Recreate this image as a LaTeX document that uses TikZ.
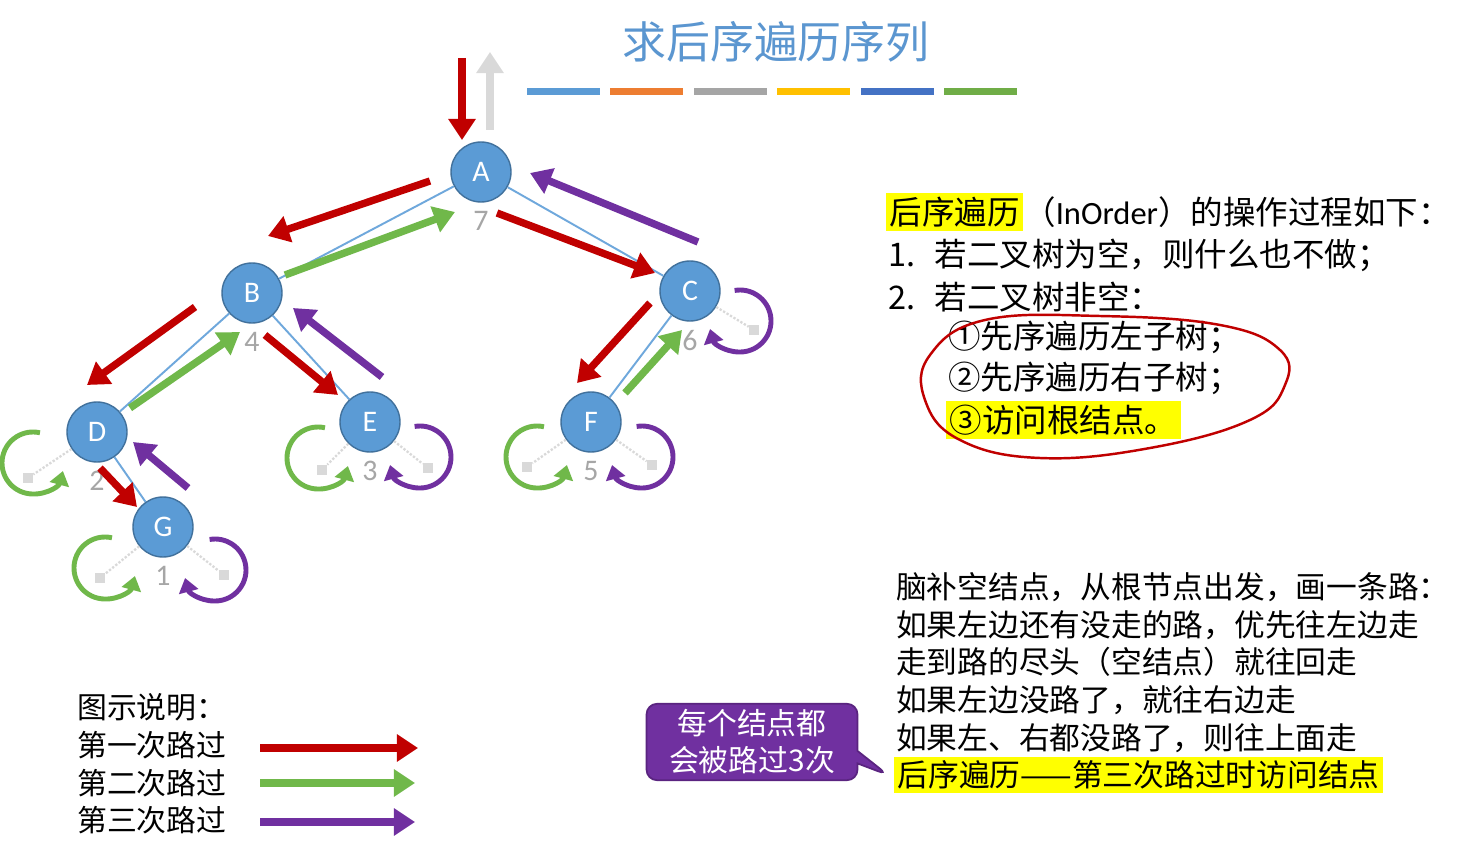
\documentclass[tikz,border=0pt]{standalone}
\usepackage{fontspec}
\setmainfont{Noto Sans CJK SC}
\newfontfamily\latfont{Carlito}
\usetikzlibrary{arrows.meta, shapes.callouts}

\definecolor{nodeblue}{HTML}{5B9BD5}
\definecolor{nodeborder}{HTML}{41719C}
\definecolor{edgeblue}{HTML}{6FA8DC}
\definecolor{nilgray}{HTML}{D9D9D9}
\definecolor{ordergray}{HTML}{A6A6A6}
\definecolor{passred}{HTML}{C00000}
\definecolor{passgreen}{HTML}{70B84A}
\definecolor{passpurple}{HTML}{7030A0}
\definecolor{titleblue}{HTML}{5B96D0}
\definecolor{hlyellow}{HTML}{FFFF00}
\definecolor{barblue}{HTML}{5B9BD5}
\definecolor{barorange}{HTML}{ED7D31}
\definecolor{bargray}{HTML}{A5A5A5}
\definecolor{baryellow}{HTML}{FFC000}
\definecolor{bardarkblue}{HTML}{4472C4}
\definecolor{bargreen}{HTML}{70AD47}
\definecolor{noteborder}{HTML}{5A2480}

\newcommand{\hlt}[1]{{\setlength{\fboxsep}{2pt}\colorbox{hlyellow}{#1}}}

\begin{document}
\begin{tikzpicture}[
    x=0.02cm, y=-0.02cm,
    vertex/.style={circle, fill=nodeblue, draw=nodeborder, line width=0.8pt, minimum size=1.2cm, inner sep=0pt, text=white, font=\latfont\fontsize{17}{17}\selectfont},
    order/.style={text=ordergray, font=\latfont\fontsize{17}{17}\selectfont},
    edge/.style={draw=edgeblue, line width=1.1pt},
    nil/.style={fill=nilgray, minimum size=0.2cm, inner sep=0pt},
    nilline/.style={draw=nilgray, densely dotted, line width=1.3pt},
    first/.style={draw=passred, line width=4.2pt, -{Triangle[length=12pt,width=15pt]}},
    second/.style={draw=passgreen, line width=4.2pt, -{Triangle[length=12pt,width=15pt]}},
    third/.style={draw=passpurple, line width=4.2pt, -{Triangle[length=12pt,width=15pt]}},
    greenloop/.style={draw=passgreen, line width=2.8pt, -{Triangle[length=8pt,width=11pt]}},
    purpleloop/.style={draw=passpurple, line width=2.8pt, -{Triangle[length=8pt,width=11pt]}},
    bodytext/.style={anchor=west, font=\fontsize{18.5}{22}\selectfont},
    hinttext/.style={anchor=west, font=\fontsize{17.5}{21}\selectfont},
    keytext/.style={anchor=west, font=\fontsize{17}{21}\selectfont},
    note/.style={rectangle callout, rounded corners=6pt, fill=passpurple, draw=noteborder, line width=1pt, text=white, align=center, minimum width=4.22cm, minimum height=1.5cm, font=\fontsize{17}{21}\selectfont}
]
\useasboundingbox (0,0) rectangle (1460,841);
\fill[white] (0,0) rectangle (1460,841);

\node[font=\fontsize{25}{25}\selectfont, text=titleblue] (title) at (776,42) {求后序遍历序列};
\foreach \c [count=\i] in {barblue, barorange, bargray, baryellow, bardarkblue, bargreen}
    \fill[\c] ({527+(\i-1)*83.4},88) rectangle +(73,7);

\node[vertex, label={[order, label distance=1.5pt]below:7}] (A) at (481,172) {A};
\node[vertex, label={[order, label distance=1.5pt]below:4}] (B) at (252,293) {B};
\node[vertex, label={[order, label distance=1.5pt]below:6}] (C) at (690,291) {C};
\node[vertex, label={[order, label distance=1.5pt]below:2}] (D) at (97,432) {D};
\node[vertex, label={[order, label distance=1.5pt]below:3}] (E) at (370,422) {E};
\node[vertex, label={[order, label distance=1.5pt]below:5}] (F) at (591,422) {F};
\node[vertex, label={[order, label distance=1.5pt]below:1}] (G) at (163,527) {G};

\draw[edge] (A) -- (B);
\draw[edge] (A) -- (C);
\draw[edge] (B) -- (D);
\draw[edge] (B) -- (E);
\draw[edge] (C) -- (F);
\draw[edge] (D) -- (G);

\node[nil] (Dl) at (28,478) {};
\node[nil] (El) at (322,470) {};
\node[nil] (Er) at (428,468) {};
\node[nil] (Fl) at (527,467) {};
\node[nil] (Fr) at (652,465) {};
\node[nil] (Gl) at (100,578) {};
\node[nil] (Gr) at (224,575) {};
\node[nil] (Cr) at (754,330) {};
\draw[nilline] (D) -- (Dl);
\draw[nilline] (E) -- (El);
\draw[nilline] (E) -- (Er);
\draw[nilline] (F) -- (Fl);
\draw[nilline] (F) -- (Fr);
\draw[nilline] (G) -- (Gl);
\draw[nilline] (G) -- (Gr);
\draw[nilline] (C) -- (Cr);

\draw[first] (462,58) -- (462,140);
\draw[draw=nilgray, line width=4.2pt, -{Triangle[length=12pt,width=15pt]}] (490,130) -- (490,52);

\draw[first] (430,181) -- (268,236);
\draw[second] (285,275) -- (455,212);
\draw[first] (497,213) -- (655,273);
\draw[third] (698,242) -- (530,173);
\draw[first] (195,307) -- (87,385);
\draw[second] (130,408) -- (240,332);
\draw[first] (265,335) -- (338,395);
\draw[third] (382,377) -- (293,308);
\draw[first] (650,303) -- (577,383);
\draw[second] (625,393) -- (682,330);
\draw[first] (100,468) -- (137,507);
\draw[third] (188,488) -- (133,442);

\draw[greenloop] (33,463) ++(-77:31) arc[start angle=-77, end angle=-345, radius=31];
\draw[greenloop] (318,458) ++(-77:31) arc[start angle=-77, end angle=-345, radius=31];
\draw[greenloop] (537,457) ++(-77:31) arc[start angle=-77, end angle=-345, radius=31];
\draw[greenloop] (105,568) ++(-77:31) arc[start angle=-77, end angle=-345, radius=31];
\draw[purpleloop] (420,457) ++(-100:31) arc[start angle=-100, end angle=165, radius=31];
\draw[purpleloop] (642,457) ++(-100:31) arc[start angle=-100, end angle=165, radius=31];
\draw[purpleloop] (215,570) ++(-100:31) arc[start angle=-100, end angle=165, radius=31];
\draw[purpleloop] (740,321) ++(-100:31) arc[start angle=-100, end angle=165, radius=31];

\node[bodytext] (rule0) at (880,212) {\hlt{后序遍历}（{\latfont InOrder}）的操作过程如下：};
\node[bodytext] (rule1) at (882,255) {\makebox[26.6pt][l]{1.}若二叉树为空，则什么也不做；};
\node[bodytext] (rule2) at (882,297) {\makebox[26.6pt][l]{2.}若二叉树非空：};
\node[bodytext] (step1) at (942,337) {①先序遍历左子树；};
\node[bodytext] (step2) at (942,378) {②先序遍历右子树；};
\node[bodytext] (step3) at (940,420) {\hlt{③访问根结点。}};
\draw[passred, line width=1.4pt] plot[smooth cycle, tension=0.7] coordinates {(985,320) (1100,316) (1220,325) (1280,350) (1285,385) (1250,420) (1150,448) (1040,458) (960,440) (925,400) (930,355)};

\node[hinttext] (hint1) at (890,587) {脑补空结点，从根节点出发，画一条路：};
\node[hinttext] (hint2) at (890,625) {如果左边还有没走的路，优先往左边走};
\node[hinttext] (hint3) at (890,662) {走到路的尽头（空结点）就往回走};
\node[hinttext] (hint4) at (890,700) {如果左边没路了，就往右边走};
\node[hinttext] (hint5) at (890,738) {如果左、右都没路了，则往上面走};
\node[hinttext] (hint6) at (888,775) {\hlt{后序遍历——第三次路过时访问结点}};
\node[note, callout absolute pointer={(hint6.west)}] (visits) at (752,742) {每个结点都\\会被路过3次};

\node[keytext] (key0) at (71,707) {图示说明：};
\node[keytext] (key1) at (71,745) {第一次路过};
\node[keytext] (key2) at (71,783) {第二次路过};
\node[keytext] (key3) at (71,820) {第三次路过};
\draw[first] (260,748) -- (418,748);
\draw[second] (260,783) -- (415,783);
\draw[third] (260,822) -- (415,822);

\end{tikzpicture}
\end{document}
